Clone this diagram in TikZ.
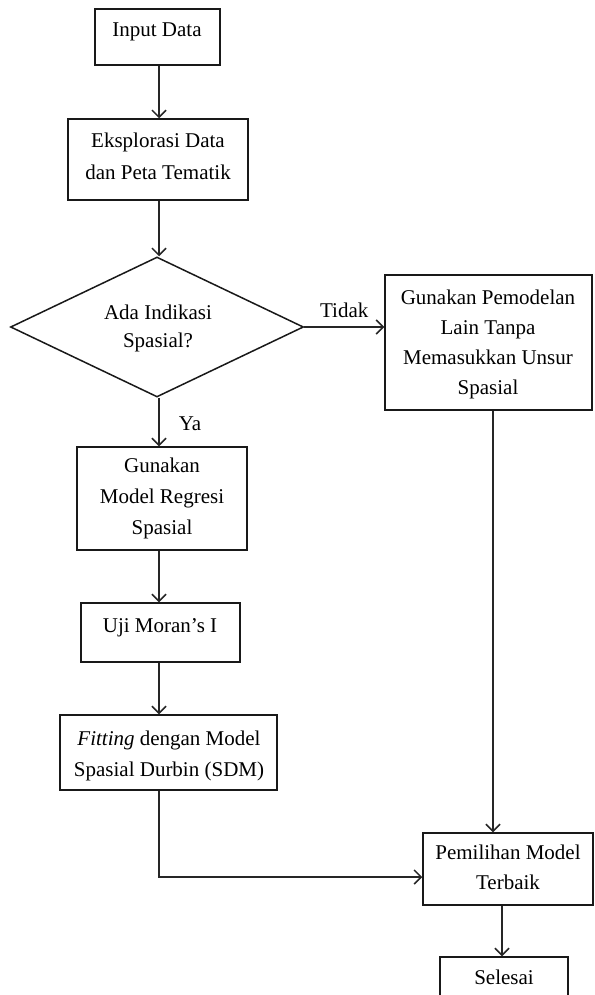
\documentclass[tikz,border=0pt]{standalone}
\usepackage{fontspec}
\setmainfont{Liberation Serif}
\usetikzlibrary{shapes.geometric,arrows.meta}
\begin{document}
\begin{tikzpicture}[x=1pt,y=-1pt,
  box/.style={draw=black!90,line width=1.5pt,inner sep=0pt,rectangle},
  txt/.style={anchor=base,align=center,inner sep=0pt,font=\fontsize{21}{30}\selectfont},
  arr/.style={draw=black!85,line width=1.5pt,-{Straight Barb[length=7pt,width=14pt,line width=1.5pt]}},
  ln/.style={draw=black!85,line width=1.5pt}]
\clip (0,0) rectangle (594,995);
\fill[white] (0,0) rectangle (594,995);
\coordinate (ax) at (159,0);
% boxes
\node[box,minimum width=125pt,minimum height=56pt] (b1) at (157.5,37) {};
\node[box,minimum width=180pt,minimum height=81pt] (b2) at (158,159.5) {};
\node[draw=black!90,line width=1.5pt,diamond,inner sep=0pt,minimum width=293pt,minimum height=140pt] (d) at (157,327) {};
\node[box,minimum width=207pt,minimum height=135pt] (r) at (488.5,342.5) {};
\node[box,minimum width=170pt,minimum height=103pt] (b3) at (162,498.5) {};
\node[box,minimum width=159pt,minimum height=59pt] (b4) at (160.5,632.5) {};
\node[box,minimum width=217pt,minimum height=75pt] (b5) at (168.5,752.5) {};
\node[box,minimum width=170pt,minimum height=72pt] (p) at (508,869) {};
\node[box,minimum width=128pt,minimum height=80pt] (s) at (504,997) {};
% texts (anchor base = baseline of last line)
\node[txt] (t1) at (157,37) {Input Data};
\node[txt,font=\fontsize{21}{32}\selectfont] (t2) at (158,179) {Eksplorasi Data\\dan Peta Tematik};
\node[txt,font=\fontsize{21}{28}\selectfont] (td) at (158,347) {Ada Indikasi\\Spasial?};
\node[txt] (tr) at (488,394) {Gunakan Pemodelan\\Lain Tanpa\\Memasukkan Unsur\\Spasial};
\node[txt,font=\fontsize{21}{31}\selectfont] (t3) at (162,534) {Gunakan\\Model Regresi\\Spasial};
\node[txt] (t4) at (160,632) {Uji Moran’s I};
\node[txt,font=\fontsize{21}{31}\selectfont] (t5) at (169,776) {\textit{Fitting} dengan Model\\Spasial Durbin (SDM)};
\node[txt] (tp) at (508,889) {Pemilihan Model\\Terbaik};
\node[txt] (ts) at (504,984) {Selesai};
% connectors
\draw[arr] (b1.south -| ax) -- (b2.north -| ax);
\draw[arr] (b2.south -| ax) -- (d.north -| ax);
\draw[arr] (d.east) -- (d.east -| r.west) node[midway,above=9pt,txt,anchor=south,font=\fontsize{21}{24}\selectfont] (tidak) {Tidak};
\draw[arr] (d.south -| ax) -- (b3.north -| ax) node[midway,txt,anchor=west,xshift=19pt,yshift=-2pt] (ya) {Ya};
\draw[arr] (b3.south -| ax) -- (b4.north -| ax);
\draw[arr] (b4.south -| ax) -- (b5.north -| ax);
\coordinate (rx) at (493,0);
\draw[arr] (r.south -| rx) -- (p.north -| rx);
\coordinate (cor) at (159,877);
\draw[arr] (b5.south -| cor) -- (cor) -- (cor -| p.west);
\coordinate (px) at (502,0);
\draw[arr] (p.south -| px) -- (s.north -| px);
\end{tikzpicture}
\end{document}
